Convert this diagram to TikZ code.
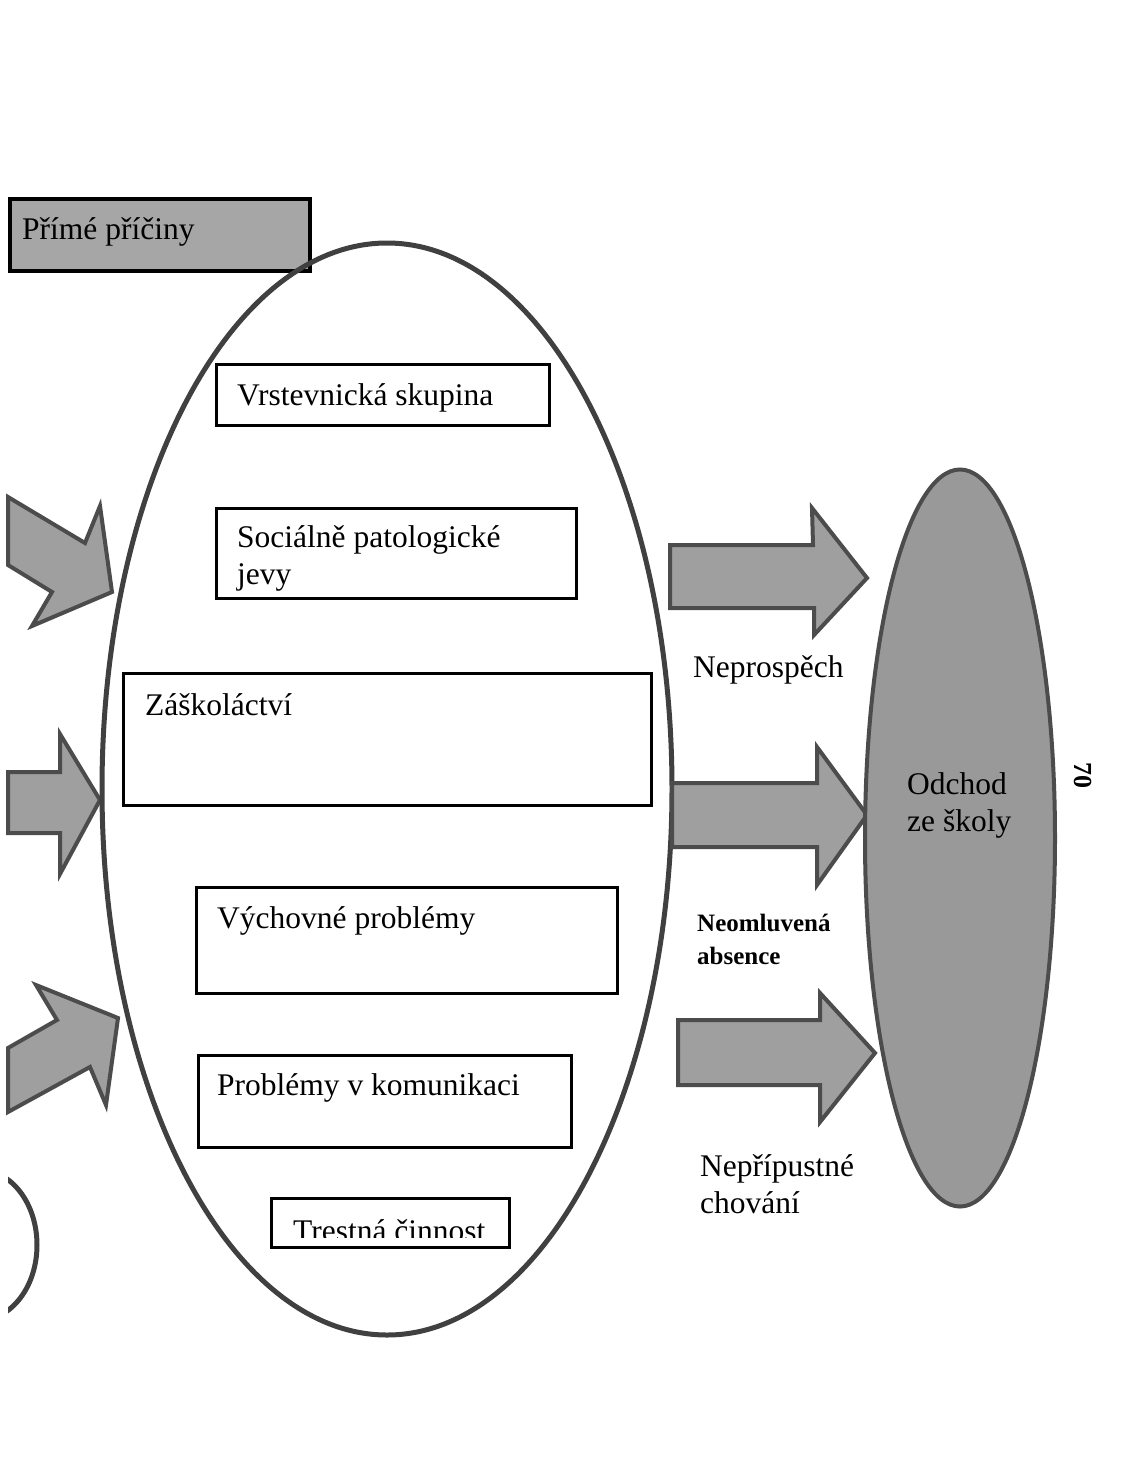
\documentclass[tikz,border=0pt]{standalone}
\usepackage{fontspec}
\setmainfont{Liberation Serif}
\usetikzlibrary{shapes.geometric}
\begin{document}
\begin{tikzpicture}[x=1pt,y=-1pt,
  box/.style={draw=black,line width=2.5pt,fill=white,inner sep=0pt,anchor=north west},
  lbl/.style={anchor=base west,inner sep=0pt,font=\fontsize{31.5}{38}\selectfont},
  slbl/.style={anchor=base west,inner sep=0pt,font=\fontsize{25}{30}\selectfont\bfseries},
  bigarrow/.style={fill=gray!75,draw=black!70,line width=4pt,line join=miter},
  oval/.style={draw=black!75,line width=5pt}]
\useasboundingbox (0,0) rectangle (1142,1473);
\fill[white] (0,0) rectangle (1142,1473);

% header box
\node[box,fill=gray!70,line width=4pt,minimum width=300pt,minimum height=72pt] (hdr) at (8,197) {};
\node[lbl] (hdrt) at (22,239) {Přímé příčiny};

% left arrows
\path[bigarrow] (8,497) -- (85,543) -- (100,506) -- (112,592) -- (32,626) -- (52,592) -- (8,565) -- cycle;
\path[bigarrow] (8,772) -- (60,772) -- (60,734) -- (100,800) -- (60,874) -- (60,833) -- (8,833) -- cycle;
\path[bigarrow] (8,1048) -- (57,1020) -- (36,985) -- (118,1018) -- (106,1105) -- (90,1067) -- (8,1112) -- cycle;

% small arc lower left
\begin{scope}
\clip (8,1150) rectangle (120,1340);
\draw[oval] (-20,1245) ellipse [x radius=57pt, y radius=75pt];
\end{scope}

% big ellipse
\node[oval,ellipse,minimum width=570pt,minimum height=1092pt,inner sep=0pt] (big) at (387,789) {};

% right arrows
\path[bigarrow] (670,545) -- (813,545) -- (812,508) -- (867,578) -- (814,635) -- (814,608) -- (670,608) -- cycle;
\path[bigarrow] (672,783) -- (817,783) -- (817,747) -- (867,815) -- (817,885) -- (817,847) -- (672,847) -- cycle;
\path[bigarrow] (678,1020) -- (820,1020) -- (820,993) -- (875,1053) -- (820,1122) -- (820,1085) -- (678,1085) -- cycle;

% inner boxes
\node[box,minimum width=333pt,minimum height=61pt] (b1) at (215,363) {};
\node[lbl] at (237,405) {Vrstevnická skupina};
\node[box,minimum width=360pt,minimum height=90pt] (b2) at (215,507) {};
\node[lbl] at (237,547) {Sociálně patologické};
\node[lbl] at (237,584) {jevy};
\node[box,minimum width=528pt,minimum height=132pt] (b3) at (122,672) {};
\node[lbl] at (145,715) {Záškoláctví};
\node[box,minimum width=421pt,minimum height=106pt] (b4) at (195,886) {};
\node[lbl] at (217,928) {Výchovné problémy};
\node[box,minimum width=373pt,minimum height=92pt] (b5) at (197,1054) {};
\node[lbl] at (217,1095) {Problémy v komunikaci};
\begin{scope}
\node[box,minimum width=238pt,minimum height=49pt] (b6) at (270,1197) {};
\clip (270,1197) rectangle (508,1237);
\node[lbl] at (293,1241) {Trestná činnost};
\end{scope}

% labels of right arrows
\node[lbl] at (693,677) {Neprospěch};
\node[slbl] at (697,931) {Neomluvená};
\node[slbl] at (697,964) {absence};
\node[lbl] at (700,1176) {Nepřípustné};
\node[lbl] at (700,1213) {chování};

% target ellipse
\node[draw=black!70,line width=4pt,fill=gray!80,ellipse,minimum width=190pt,minimum height=737pt,inner sep=0pt] (goal) at (960,838) {};
\node[lbl] at (907,794) {Odchod};
\node[lbl] at (907,831) {ze školy};

% page number
\node[rotate=-90,font=\fontsize{26}{30}\selectfont\bfseries] (pg) at (1083,775) {70};
\end{tikzpicture}
\end{document}
